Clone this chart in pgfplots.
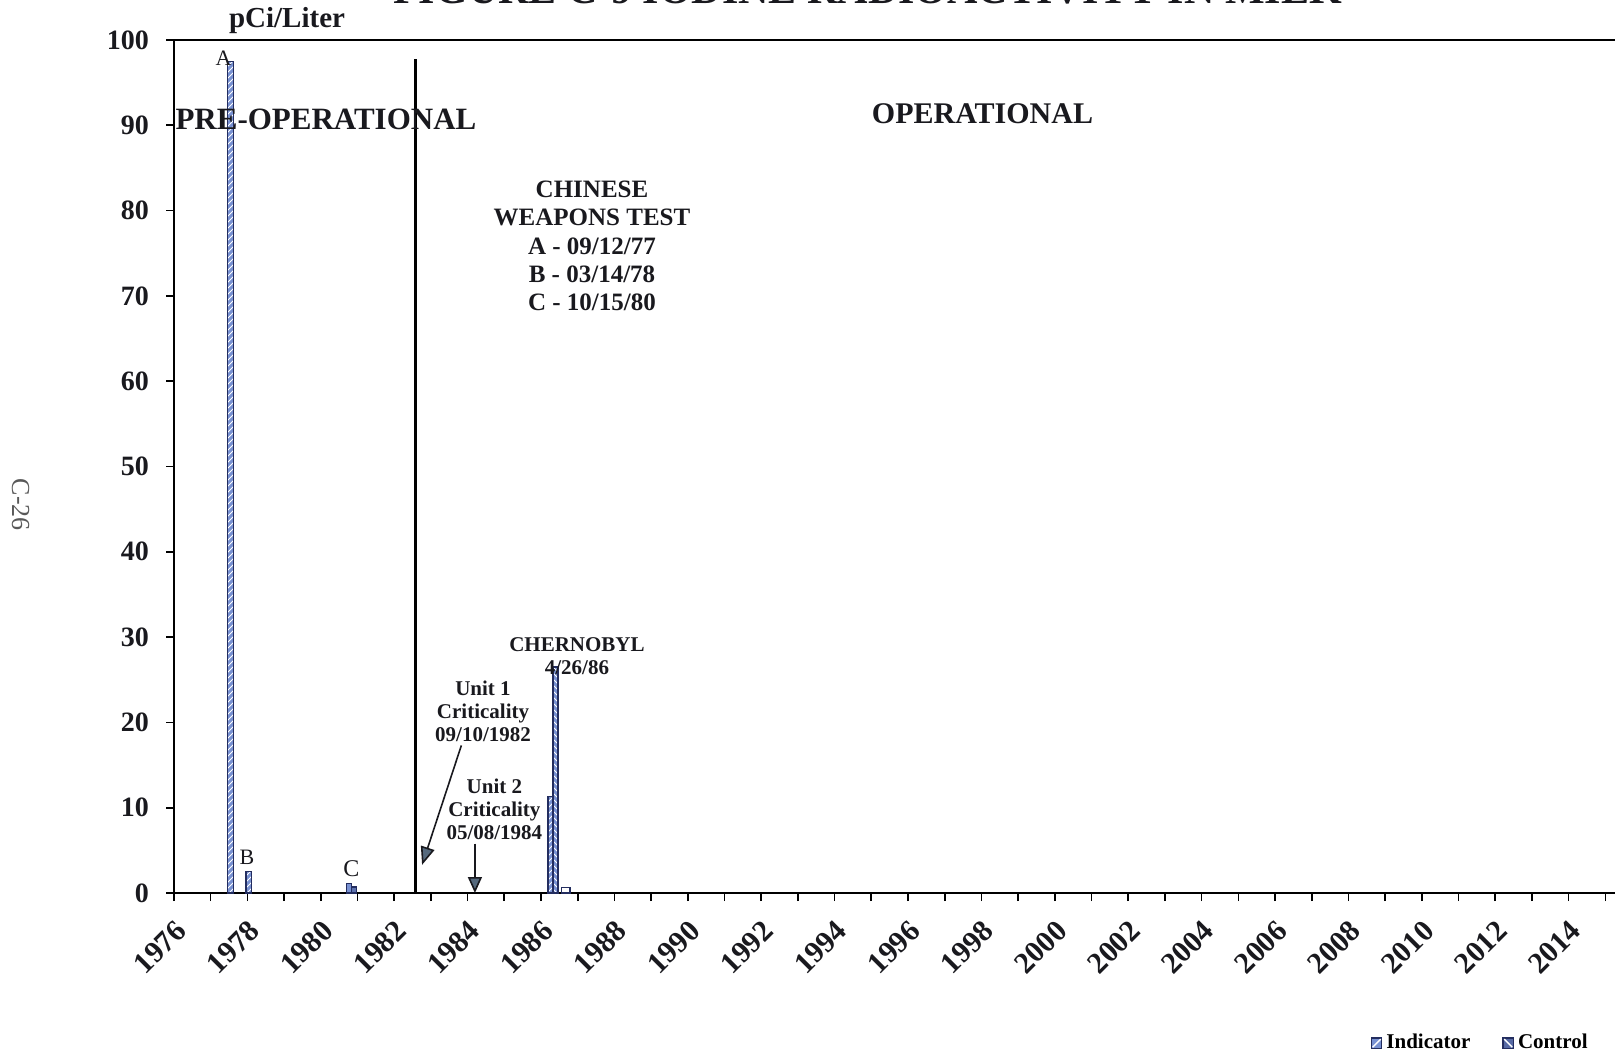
\documentclass[border=0pt]{standalone}
\usepackage{pgfplots}
\pgfplotsset{compat=1.18}
\usepackage{fontspec}
\setmainfont{Liberation Serif}
\usetikzlibrary{arrows.meta,patterns}
\definecolor{navy}{RGB}{35,45,95}
\definecolor{barblue}{RGB}{120,145,210}
\definecolor{arrowfill}{RGB}{85,105,125}
\definecolor{txt}{RGB}{25,25,30}
\begin{document}
\begin{tikzpicture}
\begin{axis}[
  at={(0,0)}, anchor=south west,
  scale only axis, width=734pt, height=426.5pt,
  xmin=1976, xmax=2016, ymin=0, ymax=100,
  clip=false,
  axis line style={line width=0.9pt, black},
  xtick={1976,1978,...,2014},
  minor xtick={1977,1979,...,2015},
  ytick={0,10,...,100},
  xtick pos=left, ytick pos=left,
  tick align=outside,
  major tick length=4pt, minor tick length=4pt,
  every tick/.style={line width=0.8pt, black},
  /pgf/number format/assume math mode=true,
  /pgf/number format/1000 sep={},
  tick label style={font=\fontsize{14}{16}\selectfont\bfseries, text=txt},
  xticklabel style={font=\fontsize{15}{16}\selectfont\bfseries, rotate=45, anchor=east, yshift=-11.3pt, xshift=-2.8pt},
  yticklabel style={xshift=-5pt},
  legend style={at={(0.815,-0.176)}, anchor=west, draw=none, fill=none,
    legend columns=2, font=\fontsize{10.5}{12}\selectfont\bfseries,
    /tikz/every even column/.append style={column sep=14pt}, inner sep=0pt},
  legend cell align=left,
]
% Indicator bars
\addplot[ybar, bar shift=0pt, bar width=0.18, draw=navy, fill=barblue, line width=0.6pt, postaction={pattern=north east lines, pattern color=white}, forget plot] coordinates {(1977.54,97.5)};
\addplot[ybar, bar shift=0pt, bar width=0.155, draw=navy, fill=barblue, line width=0.6pt, postaction={pattern=north east lines, pattern color=white}, forget plot] coordinates {(1978.04,2.5)};
\addplot[ybar, bar shift=0pt, bar width=0.13, draw=navy, fill=barblue, line width=0.6pt, forget plot] coordinates {(1980.775,1.1)};
\addplot[ybar, bar shift=0pt, bar width=0.135, draw=navy, fill=barblue, line width=0.6pt, postaction={pattern=north east lines, pattern color=white}, forget plot] coordinates {(1986.26,11.3)};
\addplot[ybar, bar shift=0pt, bar width=0.24, draw=navy, fill=white, line width=0.6pt, forget plot] coordinates {(1986.67,0.6)};
% Control bars
\addplot[ybar, bar shift=0pt, bar width=0.13, draw=navy, fill=barblue!70!navy, line width=0.6pt, forget plot] coordinates {(1980.91,0.7)};
\addplot[ybar, bar shift=0pt, bar width=0.135, draw=navy, fill=barblue, line width=0.6pt, postaction={pattern=north west lines, pattern color=white}, forget plot] coordinates {(1986.395,26.5)};
% operational boundary
\addplot[line width=1.4pt, black, forget plot] coordinates {(1982.57,0) (1982.57,97.8)};

\addlegendimage{legend image code/.code={\draw[navy, line width=0.6pt, fill=barblue] (0pt,-2.6pt) rectangle (5.2pt,2.6pt); \draw[white, line width=0.7pt] (0.6pt,-2pt) -- (4.6pt,2pt);}}
\addlegendentry{Indicator}
\addlegendimage{legend image code/.code={\draw[navy, line width=0.6pt, fill=barblue!60!navy] (0pt,-2.6pt) rectangle (5.2pt,2.6pt); \draw[white, line width=0.7pt] (0.6pt,2pt) -- (4.6pt,-2pt);}}
\addlegendentry{Control}

% arrows
\draw[line width=0.8pt, txt, -{Triangle[width=7pt,length=9pt,fill=arrowfill]}] (axis cs:1983.83,17.3) -- (axis cs:1982.76,3.3);
\draw[line width=0.8pt, txt, -{Triangle[width=7pt,length=8pt,fill=arrowfill]}] (axis cs:1984.20,5.8) -- (axis cs:1984.20,0);

% texts
\node[font=\fontsize{21}{24}\selectfont\bfseries, text=txt, anchor=base] at (axis cs:1994.9,104.3) {FIGURE C-9 IODINE RADIOACTIVITY IN MILK};
\node[font=\fontsize{14.5}{16}\selectfont\bfseries, text=txt] at (axis cs:1979.08,102.3) {pCi/Liter};
\node[font=\fontsize{15.5}{17}\selectfont\bfseries, text=txt, anchor=west, inner sep=0pt] at (axis cs:1976.03,90.7) {PRE-OPERATIONAL};
\node[font=\fontsize{15}{17}\selectfont\bfseries, text=txt] at (axis cs:1998.03,91.3) {OPERATIONAL};
\node[font=\fontsize{12.5}{14.2}\selectfont\bfseries, text=txt, align=center] at (axis cs:1987.39,75.85) {CHINESE\\WEAPONS TEST\\A - 09/12/77\\B - 03/14/78\\C - 10/15/80};
\node[font=\fontsize{11}{12}\selectfont, text=txt] at (axis cs:1977.35,97.9) {A};
\node[font=\fontsize{11}{12}\selectfont, text=txt] at (axis cs:1977.99,4.2) {B};
\node[font=\fontsize{12}{13}\selectfont, text=txt] at (axis cs:1980.83,2.8) {C};
\node[font=\fontsize{10.5}{11.35}\selectfont\bfseries, text=txt, align=center] at (axis cs:1986.98,27.75) {CHERNOBYL\\4/26/86};
\node[font=\fontsize{10.5}{11.3}\selectfont\bfseries, text=txt, align=center] at (axis cs:1984.42,21.3) {Unit 1\\Criticality\\09/10/1982};
\node[font=\fontsize{10.5}{11.3}\selectfont\bfseries, text=txt, align=center] at (axis cs:1984.73,9.8) {Unit 2\\Criticality\\05/08/1984};
\node[font=\fontsize{13}{14}\selectfont, text=black!65, rotate=-90] at (axis cs:1971.82,45.5) {C-26};
\end{axis}
\pgfresetboundingbox
\path[use as bounding box] (-87pt,-81.5pt) rectangle (720.5pt,446.5pt);
\end{tikzpicture}
\end{document}
